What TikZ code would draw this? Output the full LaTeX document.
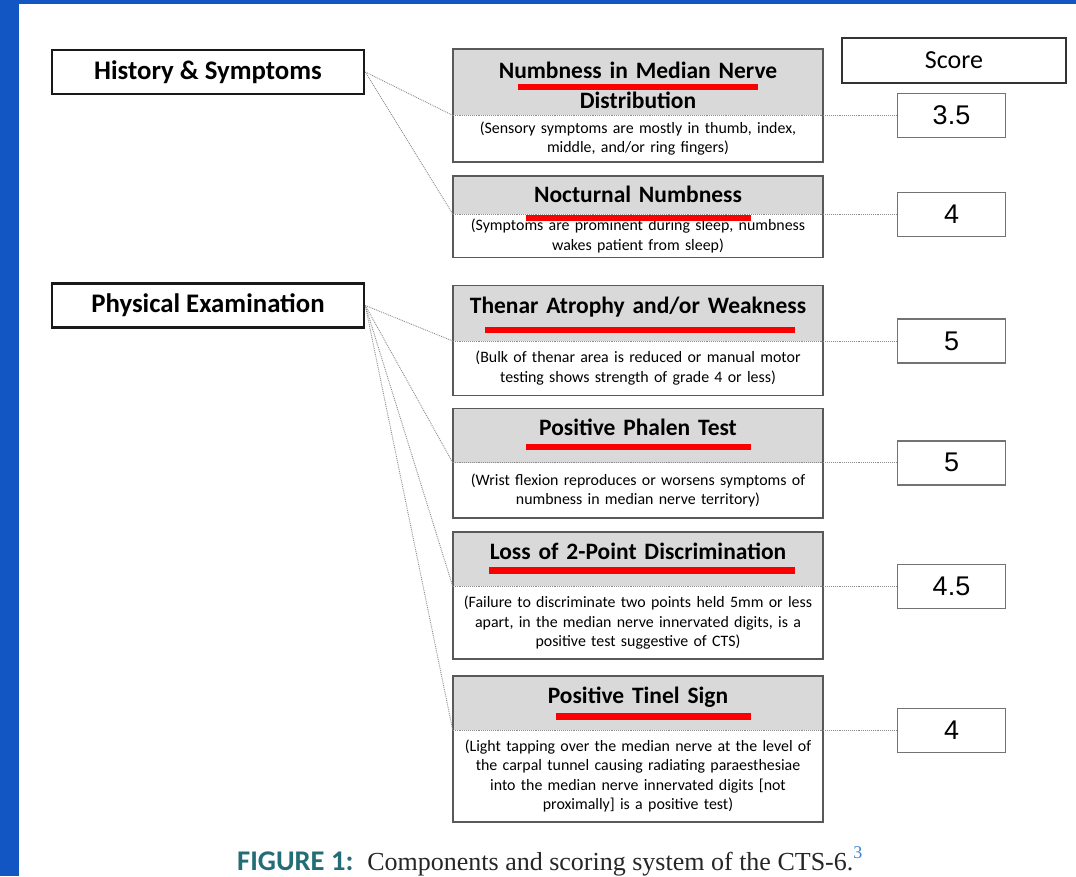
\documentclass[tikz,border=0pt]{standalone}
\usepackage{fontspec}
\setmainfont{Carlito}
\newfontfamily\numfont{Liberation Sans}
\newfontfamily\serffont{Liberation Serif}
\usetikzlibrary{positioning, fit, calc}
\definecolor{slideblue}{RGB}{18, 86, 196}
\definecolor{headgray}{RGB}{217, 217, 217}
\definecolor{linkgray}{RGB}{140, 140, 140}
\definecolor{markred}{RGB}{250, 0, 0}
\definecolor{figteal}{RGB}{35, 110, 118}
\definecolor{supblue}{RGB}{60, 130, 200}
\newcommand{\catfont}{\fontsize{26.8}{30}\selectfont\bfseries}
\newcommand{\headfont}{\fontsize{23.5}{27}\selectfont\bfseries}
\newcommand{\descfont}{\fontsize{15.9}{19.5}\selectfont}

\begin{document}
\begin{tikzpicture}[
  x=1pt, y=1pt,
  node distance=14pt,
  % --- Styles ---
  catbox/.style={
    rectangle, draw=black!90, line width=2.6pt, fill=white,
    minimum width=312pt, minimum height=44pt, font=\catfont},
  headbox/.style={
    rectangle, fill=headgray, minimum width=370pt, text width=366pt,
    align=center, inner sep=0pt, font=\headfont},
  oneline/.style={text height=16pt, text depth=16pt},
  bodybox/.style={
    rectangle, fill=white, minimum width=370pt, text width=366pt,
    align=center, inner sep=0pt, font=\descfont},
  itemframe/.style={draw=black!65, line width=1.5pt, inner sep=0pt},
  scorebox/.style={
    rectangle, draw=black!55, line width=1.4pt, fill=white,
    minimum width=108pt, minimum height=44pt,
    font=\numfont\fontsize{27}{30}\selectfont},
  link/.style={densely dotted, draw=linkgray, line width=0.9pt},
  markbar/.style={markred, line width=6.5pt},
]
% === PAGE ===
\fill[white] (0,0) rectangle (1076,-876);
\useasboundingbox (0,0) rectangle (1076,-876);
\fill[slideblue] (0,0) rectangle (19,-876);
\fill[slideblue] (0,0) rectangle (1076,-4);

% === ITEMS ===
% History items
\node[headbox, minimum height=66pt, anchor=north] at (638,-49) (H1)
  {\rule{0pt}{23pt}Numbness in Median Nerve\\[3pt]Distribution};
\node[bodybox, minimum height=46pt, below=0pt of H1] (B1)
  {(Sensory symptoms are mostly in thumb, index,\\middle, and/or ring fingers)};
\node[headbox, text height=16pt, text depth=1pt, minimum height=38pt,
  below=14pt of B1] (H2) {Nocturnal Numbness};
\node[bodybox, minimum height=43pt, below=0pt of H2] (B2)
  {(Symptoms are prominent during sleep, numbness\\wakes patient from sleep)};
% Examination items
\node[headbox, oneline, minimum height=55pt, below=28pt of B2] (H3)
  {Thenar Atrophy and/or Weakness};
\node[bodybox, minimum height=54pt, below=0pt of H3] (B3)
  {(Bulk of thenar area is reduced or manual motor\\testing shows strength of grade 4 or less)};
\node[headbox, oneline, minimum height=54pt, below=13pt of B3] (H4)
  {Positive Phalen Test};
\node[bodybox, minimum height=55pt, below=0pt of H4] (B4)
  {(Wrist flexion reproduces or worsens symptoms of\\numbness in median nerve territory)};
\node[headbox, oneline, minimum height=54pt, below=14pt of B4] (H5)
  {Loss of 2-Point Discrimination};
\node[bodybox, minimum height=72pt, below=0pt of H5] (B5)
  {(Failure to discriminate two points held 5mm or less\\apart, in the median nerve innervated digits, is a\\positive test suggestive of CTS)};
\node[headbox, oneline, minimum height=54pt, below=17pt of B5] (H6)
  {Positive Tinel Sign};
\node[bodybox, minimum height=91pt, below=0pt of H6] (B6)
  {(Light tapping over the median nerve at the level of\\the carpal tunnel causing radiating paraesthesiae\\into the median nerve innervated digits [not\\proximally] is a positive test)};
\foreach \i in {1,...,6}
  \node[itemframe, fit=(H\i)(B\i)] (F\i) {};

% === CATEGORIES ===
\node[catbox] (HS) at (208,-72) {History \& Symptoms};
\node[catbox] (PE) at (208,-305.5) {Physical Examination};

% === SCORES ===
\node[scorebox, draw=black!80, line width=1.8pt, minimum width=224pt,
  minimum height=45pt, font=\fontsize{26}{30}\selectfont] (SC) at (954,-60.5) {Score};
\coordinate (scol) at (951.5,0);
\node[scorebox] (S1) at (scol |- B1.north) {3.5};
\node[scorebox] (S2) at (scol |- B2.north) {4};
\node[scorebox] (S3) at (scol |- B3.north) {5};
\node[scorebox] (S4) at (scol |- B4.north) {5};
\node[scorebox] (S5) at (scol |- B5.north) {4.5};
\node[scorebox] (S6) at (scol |- B6.north) {4};

% === LINKS ===
\foreach \i in {1,...,6}
  \draw[link] (B\i.north west) -- (S\i.west);
\draw[link] (HS.east) -- (B1.north west);
\draw[link] (HS.east) -- (B2.north west);
\foreach \i in {3,...,6}
  \draw[link] (PE.east) -- (B\i.north west);

% === RED MARKS ===
\draw[markbar] ($(H1.south)+(-120,28.5)$) -- ++(240,0);
\draw[markbar] ($(H2.south)+(-112,-4)$) -- ++(225,0);
\draw[markbar] ($(H3.south)+(-153,11)$) -- ++(310,0);
\draw[markbar] ($(H4.south)+(-112,16)$) -- ++(225,0);
\draw[markbar] ($(H5.south)+(-149,16)$) -- ++(306,0);
\draw[markbar] ($(H6.south)+(-82,14)$) -- ++(195,0);

% === CAPTION ===
\node[anchor=base west, inner sep=0pt, text=black!85] (cap) at (237,-870)
  {\textcolor{figteal}{\fontsize{28.5}{30}\selectfont\bfseries FIGURE 1:}\hspace{14pt}%
   \serffont\fontsize{26}{30}\selectfont Components and scoring system of the
   CTS-6.\raisebox{12pt}{\textcolor{supblue}{\fontsize{18}{18}\selectfont 3}}};
\end{tikzpicture}
\end{document}
